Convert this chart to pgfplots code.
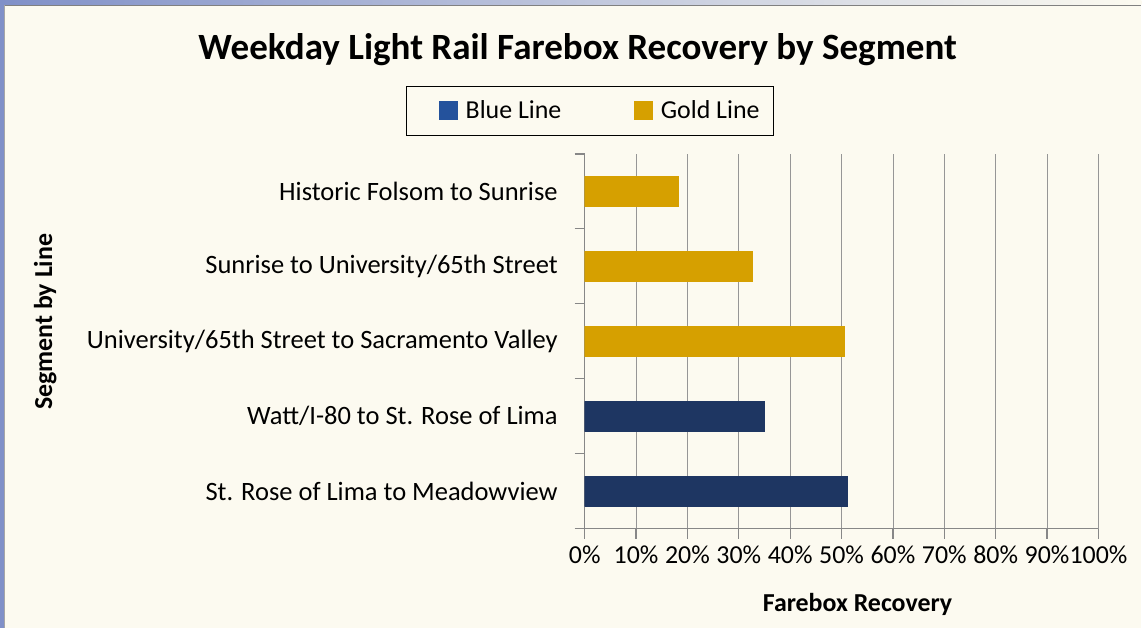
\documentclass[border=0pt]{standalone}
\usepackage{fontspec}
\setmainfont{Carlito}
\usepackage{pgfplots}
\pgfplotsset{compat=1.18}
\definecolor{cream}{RGB}{252,250,240}
\definecolor{navy}{RGB}{30,54,98}
\definecolor{legblue}{RGB}{36,82,156}
\definecolor{gold}{RGB}{214,160,0}
\definecolor{axgray}{RGB}{135,135,135}
\definecolor{gridgray}{RGB}{150,150,150}
\definecolor{frameblue}{RGB}{128,144,200}

\begin{document}
\begin{tikzpicture}
% slide background, image pixel coordinates (origin = axis lower left)
\begin{scope}[x=0.5bp,y=-0.5bp,shift={(-292.5bp,264.5bp)}]
  \fill[cream] (0,0) rectangle (1142,628);
  \shade[left color=frameblue,right color=cream] (0,0) rectangle (1142,5);
  \fill[frameblue] (0,0) rectangle (4,628);
  \draw[gray,line width=0.6bp] (4,5.5) -- (1142,5.5);
  \draw[gray!70,line width=0.5bp] (4.5,5.5) -- (4.5,628);
\end{scope}

\begin{axis}[
  scale only axis, width=257bp, height=187.5bp,
  xbar, bar shift=0pt, bar width=15bp,
  xmin=0, xmax=100, ymin=-0.5, ymax=4.5,
  axis x line*=bottom, axis y line*=left,
  axis line style={-, draw=axgray, line width=0.6bp},
  font=\fontsize{13}{15}\selectfont,
  xtick={0,10,...,100},
  xticklabels={0\%,10\%,20\%,30\%,40\%,50\%,60\%,70\%,80\%,90\%,100\%},
  xmajorgrids, grid style={draw=gridgray, line width=0.45bp},
  tick align=outside, major tick length=5bp,
  tick style={draw=axgray, line width=0.6bp},
  ytick={0,1,2,3,4},
  yticklabels={St. Rose of Lima to Meadowview, Watt/I-80 to St. Rose of Lima,
    University/65th Street to Sacramento Valley,
    Sunrise to University/65th Street, Historic Folsom to Sunrise},
  y tick style={draw=none},
  yticklabel style={xshift=-5bp, font=\fontsize{13.3}{15}\selectfont},
  extra y ticks={-0.5,0.5,1.5,2.5,3.5,4.5},
  extra y tick labels={},
  extra y tick style={y tick style={draw=axgray, line width=0.6bp}},
  xlabel={\bfseries Farebox Recovery},
  xlabel style={at={(axis description cs:0.531,-0.203)}, anchor=center},
  ylabel={\bfseries Segment by Line},
  ylabel style={at={(axis description cs:-1.05,0.552)}, anchor=center, rotate=0},
  legend style={at={(rel axis cs:0.01,1.115)}, anchor=center,
    legend columns=2, draw=black, line width=0.6bp, fill=cream,
    inner xsep=5bp, inner ysep=5bp,
    font=\fontsize{13}{15}\selectfont,
    /tikz/every odd column/.append style={column sep=2bp},
    /tikz/every even column/.append style={column sep=23bp}},
]
\addplot[fill=navy, draw=navy,
  legend image code/.code={\path[draw=none,fill=none] (0bp,0bp) -- (20.5bp,0bp);
    \fill[legblue] (11.5bp,-4.5bp) rectangle (20.5bp,4.5bp);}]
  coordinates {(51.2,0) (35.0,1)};
\addlegendentry{Blue Line}
\addplot[fill=gold, draw=gold,
  legend image code/.code={\path[draw=none,fill=none] (0bp,0bp) -- (20.5bp,0bp);
    \fill[gold] (11.5bp,-4.5bp) rectangle (20.5bp,4.5bp);}]
  coordinates {(50.6,2) (32.6,3) (18.2,4)};
\addlegendentry{Gold Line}
\end{axis}

\begin{scope}[x=0.5bp,y=-0.5bp,shift={(-292.5bp,264.5bp)}]
  \node[font=\fontsize{18.6}{21}\selectfont\bfseries, text=black] at (578,50)
    {Weekday Light Rail Farebox Recovery by Segment};
\end{scope}
\end{tikzpicture}
\end{document}
